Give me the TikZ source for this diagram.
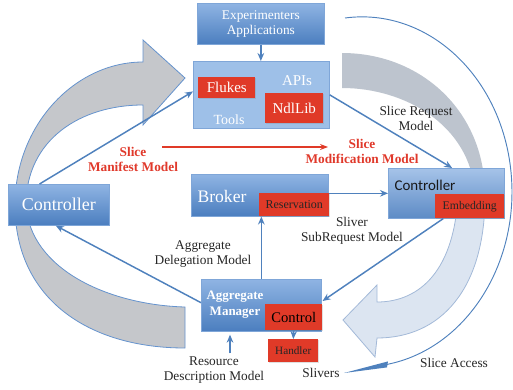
\documentclass[tikz,border=0pt]{standalone}
\usepackage{fontspec}
\setmainfont{Liberation Serif}
\newfontfamily\carlito{Carlito}
\usetikzlibrary{arrows.meta,calc,shadows}

\definecolor{boxtop}{HTML}{8FB4E3}
\definecolor{boxbot}{HTML}{4B7EBF}
\definecolor{boxedge}{HTML}{7FA6D8}
\definecolor{toolsfill}{HTML}{9EC0E8}
\definecolor{redfill}{HTML}{E03A28}
\definecolor{linkblue}{HTML}{4F81BD}
\definecolor{redtext}{HTML}{E0392B}
\definecolor{grayarrow}{HTML}{C5C7CB}
\definecolor{grayedge}{HTML}{6593CE}
\definecolor{graytail}{HTML}{BDC4CE}
\definecolor{paleblue}{HTML}{DCE5F1}
\definecolor{paleedge}{HTML}{A3B9D8}

\tikzset{
  sz/.style 2 args={minimum width=#1*0.75pt, minimum height=#2*0.75pt},
  softshadow/.style={drop shadow={opacity=0.25, shadow xshift=0.8pt, shadow yshift=-0.8pt}},
  box/.style={draw=boxedge, line width=0.5pt, top color=boxtop, bottom color=boxbot,
    inner sep=0pt, anchor=north west, softshadow, text=white},
  toolbox/.style={draw=boxedge, line width=0.5pt, fill=toolsfill,
    inner sep=0pt, anchor=north west, softshadow},
  redbox/.style={fill=redfill, inner sep=0pt, anchor=north west, softshadow},
  boxtext/.style={text=white, inner sep=0pt},
  lbl/.style={text=black!85, align=center, inner sep=0pt,
    font=\fontsize{10}{11.3}\selectfont},
  redlbl/.style={text=redtext, align=center, inner sep=0pt,
    font=\bfseries\fontsize{10}{11.3}\selectfont},
  conn/.style={draw=linkblue, line width=1.1pt, -{Stealth[length=6pt,width=5pt]}},
  redconn/.style={draw=redfill, line width=0.9pt, -{Stealth[length=6pt,width=4.5pt]}},
}

\begin{document}
\begin{tikzpicture}[x=0.75pt,y=-0.75pt]
\useasboundingbox (0,0) rectangle (513,389);

% left circular arrow (tail at the bottom, head pointing at the tools)
\filldraw[fill=grayarrow, draw=grayedge, line width=0.6pt]
  (185,348) .. controls (90,348) and (15,300) .. (15,205)
  .. controls (15,125) and (75,62) .. (143,62)
  -- (143,40) -- (185,78) -- (143,125) -- (143,105)
  .. controls (80,105) and (26,140) .. (26,205)
  .. controls (30,270) and (110,305) .. (185,307) -- cycle;

% right circular arrow: grey tail above, pale head below the controller
\fill[graytail]
  (342,53) .. controls (420,53) and (484,110) .. (485,193)
  -- (475,193) .. controls (470,125) and (405,88) .. (342,88) -- cycle;
\filldraw[fill=paleblue, draw=paleedge, line width=0.6pt]
  (485,193) .. controls (486,290) and (440,338) .. (377,338)
  -- (375,357) -- (343,320) -- (377,285) -- (377,302)
  .. controls (420,302) and (455,270) .. (458,193) -- cycle;

% slice access arc
\coordinate (sa) at (345,18);
\draw[linkblue, line width=0.7pt] (sa) arc[start angle=-96.5, end angle=80.4, x radius=150, y radius=175] coordinate (sb);
\fill[linkblue] ($(sb)+(1,-3)$) -- (344,373) -- ($(sb)+(0,3)$) -- cycle;

% boxes
\node[box, sz={127}{41}, align=center, font=\fontsize{10}{11.3}\selectfont] (exp) at (197,3) {Experimenters\\Applications};
\node[toolbox, sz={136}{67}] (tools) at (193,61) {};
\node[redbox, sz={57}{21}, text=white, font=\fontsize{11.25}{13}\selectfont] (flukes) at (198,77) {Flukes};
\node[redbox, sz={58}{30}, text=white, font=\fontsize{11.25}{13}\selectfont] (ndl) at (265,93) {NdlLib};
\node[boxtext, font=\fontsize{10.5}{12}\selectfont] (toolslbl) at (229,120) {Tools};
\node[boxtext, font=\fontsize{11.25}{13}\selectfont] (apislbl) at (297,81) {APIs};

\node[box, sz={101}{41}, font=\fontsize{13.5}{16}\selectfont] (lctrl) at (8,184) {Controller};

\node[box, sz={137}{42}] (broker) at (191,174) {};
\node[boxtext, font=\fontsize{13.2}{16}\selectfont] (brokerlbl) at (222,196) {Broker};
\node[redbox, sz={70}{23}, text=black!85, font=\fontsize{9}{11}\selectfont] (res) at (259,193) {Reservation};

\node[box, sz={116}{50}, top color=boxtop!80!white, bottom color=boxbot!90!white] (rctrl) at (388,168) {};
\node[inner sep=0pt, text=black!90, font=\carlito\fontsize{11.2}{13}\selectfont] (rctrllbl) at (425,185) {Controller};
\node[redbox, sz={69}{24}, text=black!85, font=\fontsize{8.8}{10}\selectfont] (emb) at (435,194) {Embedding};

\node[box, sz={120}{52}] (am) at (201,279) {};
\node[boxtext, align=center, font=\bfseries\fontsize{9.75}{12}\selectfont] (amlbl) at (235,305) {Aggregate\\Manager};
\node[redbox, sz={57}{26}, text=black, font=\fontsize{11}{13}\selectfont] (ctl) at (265,304) {Control};
\node[redbox, sz={50}{23}, text=black!85, font=\fontsize{8.4}{10}\selectfont] (hdl) at (268,339) {Handler};

% labels
\node[redlbl] (manifest) at (133,159) {Slice\\Manifest Model};
\node[redlbl] (modif) at (362,151) {Slice\\Modification Model};
\node[lbl] (sreq) at (416,118) {Slice Request\\Model};
\node[lbl] (deleg) at (203,254) {Aggregate\\Delegation Model};
\node[lbl] (subreq) at (352,231) {Sliver\\SubRequest Model};
\node[lbl] (rdm) at (214,370) {Resource\\Description Model};
\node[lbl] (slivers) at (321,373) {Slivers};
\node[lbl] (access) at (454,363) {Slice Access};

% connectors
\draw[conn] (exp.south) -- (exp.south |- tools.north);
\draw[conn] ($(lctrl.north west)!0.31!(lctrl.north east)$) -- ($(tools.north west)!0.45!(tools.south west)$);
\draw[conn] (tools.east) -- ($(rctrl.north west)!0.55!(rctrl.north east)$);
\coordinate (ra) at (162,147);
\coordinate (rb) at (328,147);
\draw[redconn] (ra) -- (rb);
\draw[conn] (broker.east |- rctrl.west) -- (rctrl.west);
\draw[conn] (am.north) -- (am.north |- res.south);
\draw[conn] ($(emb.south west)!0.12!(emb.south east)$) -- ($(ctl.north east)+(0,-3)$);
\draw[conn] ($(am.north west)!0.45!(am.south west)$) -- ($(lctrl.south west)!0.47!(lctrl.south east)$);
\draw[conn] (ctl.south) -- (hdl.north);
\coordinate (rdmtop) at ($(rdm.north)+(16,-3)$);
\draw[conn] (rdmtop) -- ($(rdmtop |- am.south)+(0,3)$);
\end{tikzpicture}
\end{document}
